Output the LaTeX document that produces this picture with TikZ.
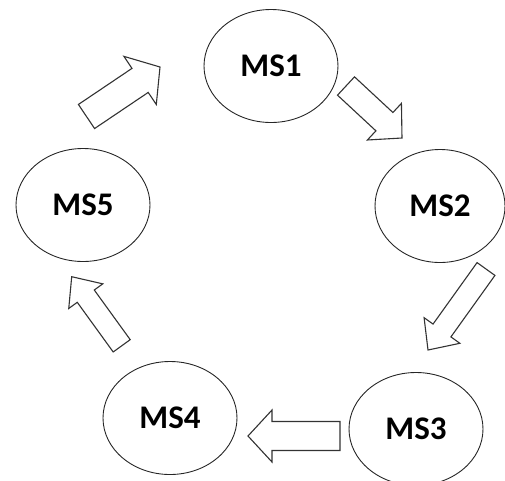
\documentclass[tikz,border=0pt]{standalone}
\usepackage{fontspec}
\setmainfont{Carlito}
\usetikzlibrary{shapes.geometric}
\usetikzlibrary{calc}

\tikzset{
    ms/.style={ellipse, draw=black!85, line width=0.9pt, minimum width=134pt, minimum height=113pt,
        inner sep=0pt, font=\fontsize{33}{33}\selectfont\bfseries},
    blockarrow/.style={draw=black!80, line width=1.1pt, fill=white, line join=miter},
}
% block arrow from tail #1 to tip #2, shaft half width #3, head half width #4
\newcommand\blockarrow[4]{%
    \coordinate (#1n) at ($(#2)!24pt!(#1)$);
    \draw [blockarrow] ($(#1)!#3!90:(#2)$) -- ($(#1n)!#3!90:(#2)$) -- ($(#1n)!#4!90:(#2)$) -- (#2)
        -- ($(#1n)!#4!-90:(#2)$) -- ($(#1n)!#3!-90:(#2)$) -- ($(#1)!#3!-90:(#2)$) -- cycle;
}

\begin{document}
\begin{tikzpicture}[x=1pt, y=-1pt]
    \useasboundingbox (0,0) rectangle (505,480);

    \node (ms1) [ms] at (271,66) {MS1};
    \node (ms2) [ms, minimum width=130pt] at (440,206) {MS2};
    \node (ms3) [ms] at (416,429) {MS3};
    \node (ms4) [ms] at (170,418) {MS4};
    \node (ms5) [ms] at (83,205) {MS5};

    \coordinate (t1) at (86.5,116.5); \coordinate (h1) at (160,67);
    \coordinate (t2) at (346,86);     \coordinate (h2) at (402,138);
    \coordinate (t3) at (486,269);    \coordinate (h3) at (428,350);
    \coordinate (t4) at (340,436);    \coordinate (h4) at (248,436);
    \coordinate (t5) at (121.7,345.8); \coordinate (h5) at (71.7,276.7);

    \blockarrow{t1}{h1}{14.5pt}{29pt}
    \blockarrow{t2}{h2}{12.5pt}{25pt}
    \blockarrow{t3}{h3}{11pt}{22pt}
    \blockarrow{t4}{h4}{14.5pt}{26pt}
    \blockarrow{t5}{h5}{10.5pt}{21pt}
\end{tikzpicture}
\end{document}
